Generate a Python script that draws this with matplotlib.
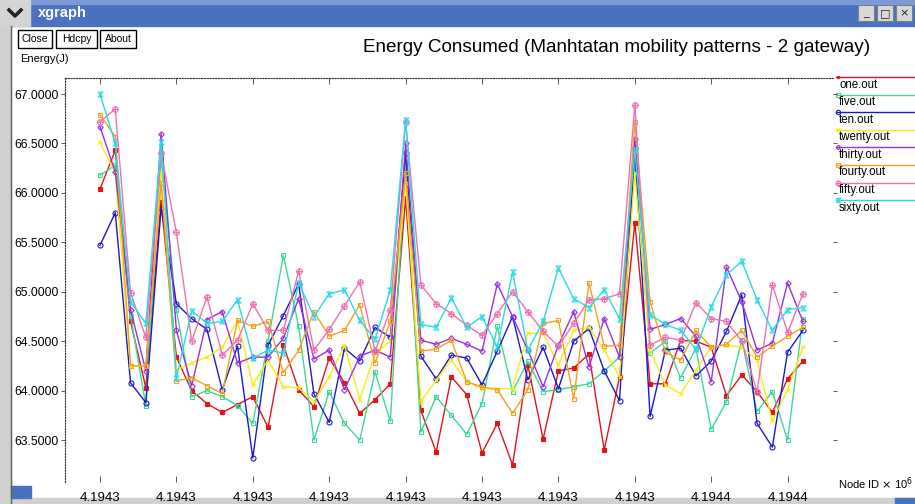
import numpy as np
import matplotlib
matplotlib.use("Agg")
import matplotlib.pyplot as plt
from matplotlib.patches import Rectangle
from matplotlib.path import Path

plt.rcParams['font.family'] = ['Liberation Sans', 'DejaVu Sans']

# node ids (x) and readings (y, J)
node_ids = np.arange(4194310, 4194357)
xtick_pos = [4194310, 4194315, 4194320, 4194325, 4194330, 4194335, 4194340, 4194345, 4194350, 4194355]
xtick_labels = ['4.1943', '4.1943', '4.1943', '4.1943', '4.1943', '4.1943', '4.1943', '4.1943', '4.1944', '4.1944']
ytick_vals = [63.5, 64.0, 64.5, 65.0, 65.5, 66.0, 66.5, 67.0]
ytick_labels = ['63.5000', '64.0000', '64.5000', '65.0000', '65.5000', '66.0000', '66.5000', '67.0000']

one = [66.04, 66.43, 64.7, 64.03, 65.91, 64.34, 64.0, 63.87, 63.78, 63.86, 63.94, 63.63, 64.46, 64.01, 63.84, 64.33,
       64.08, 63.77, 63.91, 64.07, 65.95, 63.8, 63.38, 64.14, 63.96, 63.37, 63.67, 63.25, 64.26, 63.51, 64.2, 64.23,
       64.37, 63.4, 64.14, 65.7, 64.07, 64.07, 64.51, 64.5, 64.44, 63.95, 64.16, 63.99, 63.78, 64.12, 64.3]
five = [66.18, 66.28, 64.76, 63.85, 66.35, 64.82, 63.94, 64.0, 63.94, 63.85, 63.67, 64.5, 65.37, 64.65, 63.5, 63.99,
        63.67, 63.5, 64.19, 63.69, 66.3, 63.58, 63.94, 63.75, 63.56, 63.87, 64.65, 63.99, 64.3, 63.99, 64.01, 64.04,
        64.07, 64.2, 64.34, 66.3, 64.38, 64.5, 64.13, 64.43, 63.61, 63.89, 64.51, 63.79, 63.99, 63.5, 64.73]
ten = [65.47, 65.8, 64.08, 63.88, 65.85, 64.88, 64.73, 64.62, 64.01, 64.45, 63.32, 64.46, 64.76, 65.08, 63.97, 63.68,
       64.43, 64.3, 64.64, 64.54, 66.4, 64.35, 64.12, 64.36, 64.33, 64.06, 64.4, 64.75, 64.11, 64.44, 64.02, 64.5,
       64.63, 64.2, 63.9, 66.45, 63.74, 64.41, 64.43, 64.15, 64.3, 64.6, 64.97, 63.67, 63.43, 64.39, 64.61]
twenty = [66.51, 66.2, 64.25, 64.25, 66.2, 64.21, 64.28, 64.34, 64.44, 64.71, 64.06, 64.31, 64.04, 64.03, 63.89, 64.14,
          64.46, 63.91, 64.38, 64.5, 66.1, 63.89, 64.11, 64.31, 64.09, 64.02, 64.02, 64.02, 64.58, 64.58, 64.26, 64.61,
          64.64, 64.41, 64.14, 66.2, 64.41, 64.06, 63.97, 64.21, 64.44, 64.46, 64.44, 64.31, 63.69, 64.01, 64.44]
thirty = [66.67, 66.21, 64.82, 64.2, 66.6, 64.61, 64.05, 64.72, 64.8, 64.28, 64.34, 64.34, 64.53, 64.93, 64.32, 64.41,
          64.01, 64.35, 64.41, 64.34, 66.5, 64.51, 64.47, 64.53, 64.47, 64.4, 65.08, 64.75, 64.41, 64.04, 64.46, 64.8,
          64.24, 64.73, 64.34, 66.55, 64.62, 64.67, 64.73, 64.55, 64.09, 65.25, 64.9, 64.41, 64.48, 65.09, 64.7]
fourty = [66.79, 66.57, 64.25, 64.25, 66.1, 64.1, 64.13, 64.05, 63.97, 64.71, 64.65, 64.7, 64.18, 64.41, 64.8, 64.55,
          64.61, 64.87, 64.28, 64.7, 66.2, 64.4, 64.42, 64.51, 64.09, 64.04, 64.01, 63.77, 64.01, 64.68, 64.71, 63.92,
          65.09, 64.45, 64.46, 66.72, 64.9, 64.39, 64.31, 64.61, 64.44, 64.47, 64.61, 64.34, 64.45, 64.55, 64.64]
fifty = [66.72, 66.85, 64.99, 64.54, 66.4, 65.6, 64.5, 64.95, 64.36, 64.51, 64.88, 64.61, 64.61, 65.21, 64.41, 64.62,
         64.86, 65.1, 64.4, 64.82, 66.72, 65.07, 64.88, 64.78, 64.66, 64.56, 64.78, 65.0, 64.8, 64.6, 64.45, 64.68,
         64.92, 64.93, 64.98, 66.89, 64.46, 64.54, 64.51, 64.89, 64.73, 64.7, 64.5, 63.99, 65.07, 64.59, 64.98]
sixty = [67.0, 66.5, 64.9, 64.68, 66.51, 64.13, 64.81, 64.68, 64.7, 64.92, 64.33, 64.41, 64.38, 65.09, 64.75, 64.98,
         65.02, 64.71, 64.52, 65.02, 66.74, 64.67, 64.64, 64.94, 64.64, 64.75, 64.44, 65.2, 64.41, 64.7, 65.24, 64.93,
         64.84, 65.02, 64.73, 66.43, 64.77, 64.67, 64.61, 64.42, 64.85, 65.17, 65.31, 64.92, 64.61, 64.82, 64.84]

names = ['one.out', 'five.out', 'ten.out', 'twenty.out', 'thirty.out', 'fourty.out', 'fifty.out', 'sixty.out']
series = [one, five, ten, twenty, thirty, fourty, fifty, sixty]
colors = ['#e3151a', '#3fd896', '#1a1ac8', '#f8ec10', '#9a30e0', '#f4a020', '#f070b0', '#28dce4']

# xgraph-ish marker shapes
oplus = Path.make_compound_path(Path.unit_circle(),
                                Path([(-1, 0), (1, 0)], [Path.MOVETO, Path.LINETO]),
                                Path([(0, -1), (0, 1)], [Path.MOVETO, Path.LINETO]))
hourglass = Path([(-1, 1), (1, 1), (-1, -1), (1, -1), (-1, 1)],
                 [Path.MOVETO, Path.LINETO, Path.LINETO, Path.LINETO, Path.CLOSEPOLY])
markers = ['s', 's', 'o', 'x', 'D', 's', oplus, hourglass]
msizes = [2.5, 3.2, 3.6, 3, 2.8, 3.2, 4, 3.6]
filled = [True, False, False, False, False, False, False, False]

fig = plt.figure(figsize=(9.15, 5.04), dpi=100)

# window chrome, in pixel coords
bg = fig.add_axes([0, 0, 1, 1])
bg.set_xlim(0, 915)
bg.set_ylim(504, 0)
bg.axis('off')
bg.add_patch(Rectangle((0, 0), 915, 504, color='white'))
bg.add_patch(Rectangle((0, 0), 915, 26, color='#4a72c0'))
bg.add_patch(Rectangle((0, 0), 915, 4, color='#7b9ad6'))
bg.add_patch(Rectangle((0, 0), 30, 26, color='#d4d4d4'))
bg.plot([9, 15, 21], [10, 16, 10], color='#202020', lw=2.5)
bg.text(38, 13, 'xgraph', color='white', fontsize=10.5, fontweight='bold', va='center', ha='left')
for bx, glyph in zip([858, 877, 896], ['_', '□', '×']):
    bg.add_patch(Rectangle((bx, 5), 16, 16, facecolor='#d8d8d8', edgecolor='#808080', lw=0.8))
    bg.text(bx + 8, 13, glyph, fontsize=8, ha='center', va='center', color='#202020', family='DejaVu Sans')
bg.add_patch(Rectangle((0, 26), 11, 478, color='#d0d0d0'))
bg.plot([11, 11], [26, 504], color='#606060', lw=1)
bg.add_patch(Rectangle((0, 498), 915, 6, color='#d0d0d0'))
bg.add_patch(Rectangle((11, 486), 20, 12, color='#4a72c0'))
bg.add_patch(Rectangle((895, 498), 20, 6, color='#4a72c0'))
for (bx, bw), lab in zip([(18, 34), (56, 41), (100, 36)], ['Close', 'Hdcpy', 'About']):
    bg.add_patch(Rectangle((bx, 30), bw, 18, facecolor='white', edgecolor='black', lw=1))
    bg.text(bx + bw / 2, 39.5, lab, fontsize=7.5, ha='center', va='center')
bg.text(20, 59, 'Energy(J)', fontsize=8, ha='left', va='center')
bg.text(870, 47, 'Energy Consumed (Manhtatan mobility patterns - 2 gateway)', fontsize=13.6,
        ha='right', va='center')
bg.text(838, 484, r'Node ID $\times$ 10$^6$', fontsize=8, ha='left', va='center')

# legend, xgraph style: line on top, name below
for k in range(8):
    ly = 77 + 17.6 * k
    bg.plot([836, 915], [ly, ly], color=colors[k], lw=1)
    bg.plot([838], [ly], marker=markers[k], ms=msizes[k] - 0.5, color=colors[k],
            mfc=colors[k] if filled[k] else 'none', mew=0.8)
    bg.text(839, ly + 7.5, names[k], fontsize=8.3, ha='left', va='center')

ax = fig.add_axes([65 / 915, 1 - 482 / 504, (833 - 65) / 915, (482 - 78) / 504])
ax.patch.set_alpha(0)
for k in range(8):
    ax.plot(node_ids, series[k], color=colors[k], lw=1, marker=markers[k], ms=msizes[k],
            mfc=colors[k] if filled[k] else 'none', mec=colors[k], mew=0.8)

ax.set_xlim(node_ids[0] - 2.29, node_ids[0] + 47.97)
ax.set_ylim(63.077, 67.162)
ax.set_xticks(xtick_pos)
ax.set_xticklabels(xtick_labels, fontsize=9.5)
ax.set_yticks(ytick_vals)
ax.set_yticklabels(ytick_labels, fontsize=8.8)
ax.tick_params(axis='x', direction='in', length=4, width=0.6, color='#404040',
               top=True, bottom=True, pad=7)
ax.tick_params(axis='y', direction='out', length=3, width=0.6, color='#404040',
               right=True, pad=1.5)
for side in ['right', 'bottom']:
    ax.spines[side].set_visible(False)
for side in ['left', 'top']:
    ax.spines[side].set_linestyle((0, (1, 1.5)))
    ax.spines[side].set_linewidth(0.8)
    ax.spines[side].set_color('#303030')

fig.savefig('out.png', dpi=100)
